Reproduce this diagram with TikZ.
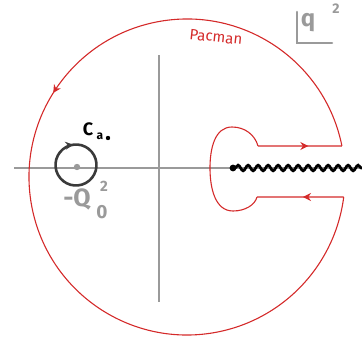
\documentclass[tikz,border=0pt]{standalone}
\usepackage{fontspec}
\setmainfont{Fira Sans}
\usetikzlibrary{calc,decorations.pathmorphing,decorations.markings,arrows.meta}
\definecolor{cred}{HTML}{D42A2A}
\definecolor{axgray}{HTML}{9A9A9A}
\definecolor{cdark}{HTML}{3A3A3A}
\tikzset{
  axis/.style={draw=axgray,line width=1.3pt},
  contour/.style={draw=cred,line width=1.1pt},
  midarrow/.style={postaction={decorate},decoration={markings,mark=at position #1 with {\arrow[line width=1.3pt]{Stealth[length=8pt,width=8pt]}}}},
  cut/.style={draw=black,line width=2.8pt,decorate,decoration={snake,amplitude=2.8pt,segment length=10pt,pre length=2pt,post length=0pt}},
  glabel/.style={text=axgray,inner sep=0pt,font=\bfseries\fontsize{#1}{#1}\selectfont},
  klabel/.style={text=black,inner sep=0pt,font=\bfseries\fontsize{#1}{#1}\selectfont},
}
\begin{document}
\begin{tikzpicture}[x=1pt,y=1pt]
\useasboundingbox (0,0) rectangle (362,343);
% axes
\draw[axis] (14,175) -- (362,175);
\draw[axis] (159,41) -- (159,288);
% branch cut
\coordinate (bp) at (233,175);
\coordinate (be) at (362,175);
\draw[cut] (bp) -- (be);
\fill (bp) circle (3.4pt);
% Pacman contour
\coordinate (c) at (187,166);
\coordinate (ku) at ($(c)+(11.31:158)$);
\coordinate (kl) at ($(c)+(-7.27:158)$);
\coordinate (iu) at (258,197);
\coordinate (il) at (257,146);
\draw[contour,midarrow=0.40] (ku) arc[start angle=11.31,end angle=352.73,radius=158];
\draw[contour,midarrow=0.6] (iu) -- (ku);
\draw[contour,midarrow=0.47] (kl) -- (il);
\draw[contour] (iu) .. controls (255,208) and (245,216) .. (232,216)
  .. controls (215,216) and (210,195) .. (210,175)
  .. controls (210,155) and (215,132) .. (233,132)
  .. controls (245,132) and (255,138) .. (il);
% small circle
\coordinate (q0) at (77,176);
\coordinate (cc) at (76,178);
\draw[draw=cdark,line width=2.6pt,midarrow=0.09] ($(cc)+(130:20.5)$) arc[start angle=130,end angle=-230,radius=20.5];
\fill[axgray] (q0) circle (3.2pt);
% labels
\node[klabel=18] (ca) at (88,214) {C};
\node[klabel=12] (ca1) at (100,207) {a};
\fill (108,205) circle (2.2pt);
\node[glabel=25] (qq) at (77,144) {-Q};
\node[glabel=15] (qq2) at (104,157) {2};
\node[glabel=19] (qq0) at (102,131) {0};
\node[text=cred,inner sep=0pt,rotate=-6,font=\fontsize{15}{15}\selectfont] (pac) at (216,306) {Pacman};
\draw[draw=axgray,line width=2.6pt,line cap=round] (297,331) -- (297,300) -- (332,300);
\node[glabel=24] (qs) at (308,320) {q};
\node[glabel=14] (qs2) at (336,334) {2};
\end{tikzpicture}
\end{document}
